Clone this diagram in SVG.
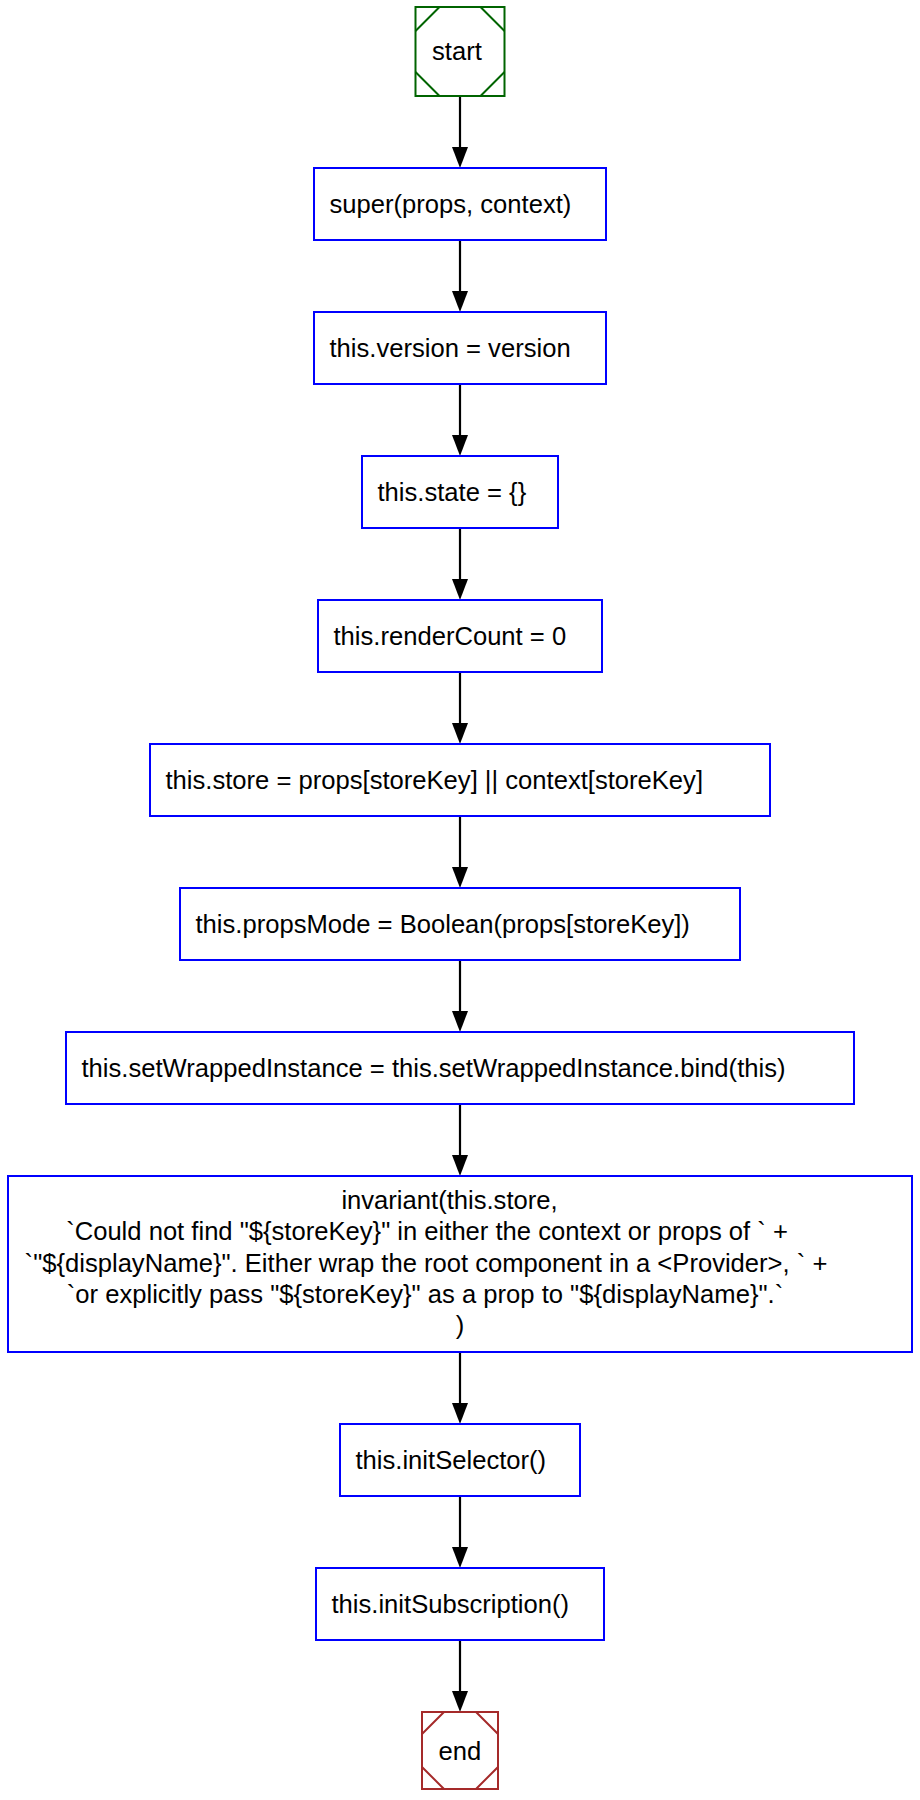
<svg xmlns="http://www.w3.org/2000/svg" width="920" height="1800" viewBox="0 0 920 1800">
<style>
  .bg { fill: #ffffff; }
  .box { fill: #ffffff; stroke: #0000ff; stroke-width: 2; }
  .start { fill: #ffffff; stroke: #006400; stroke-width: 2; }
  .end { fill: #ffffff; stroke: #a52a2a; stroke-width: 2; }
  .corner-s { fill: none; stroke: #006400; stroke-width: 2; }
  .corner-e { fill: none; stroke: #a52a2a; stroke-width: 2; }
  .lbl { font-family: "Liberation Sans", Arial, Helvetica, sans-serif; font-size: 25.6px; fill: #000000; }
  .mid { text-anchor: middle; }
  .edge { fill: none; stroke: #000000; stroke-width: 2.2; }
</style>
<defs>
  <marker id="ah" markerUnits="userSpaceOnUse" markerWidth="22" markerHeight="16" refX="0" refY="8" orient="auto" viewBox="0 0 22 16">
    <path d="M0,0 L21,8 L0,16 z" fill="#000000"/>
  </marker>
</defs>
<rect class="bg" x="0" y="0" width="920" height="1800"/>

<g id="connectors">
  <path class="edge" d="M460,96 V147" marker-end="url(#ah)"/>
  <path class="edge" d="M460,240 V291" marker-end="url(#ah)"/>
  <path class="edge" d="M460,384 V435" marker-end="url(#ah)"/>
  <path class="edge" d="M460,528 V579" marker-end="url(#ah)"/>
  <path class="edge" d="M460,672 V723" marker-end="url(#ah)"/>
  <path class="edge" d="M460,816 V867" marker-end="url(#ah)"/>
  <path class="edge" d="M460,960 V1011" marker-end="url(#ah)"/>
  <path class="edge" d="M460,1104 V1155" marker-end="url(#ah)"/>
  <path class="edge" d="M460,1352 V1403" marker-end="url(#ah)"/>
  <path class="edge" d="M460,1496 V1547" marker-end="url(#ah)"/>
  <path class="edge" d="M460,1640 V1691" marker-end="url(#ah)"/>
</g>

<g id="start">
  <rect class="start" x="415.5" y="7" width="89" height="89"/>
  <path class="corner-s" d="M415.5,31 L439.5,7 M480.5,7 L504.5,31 M504.5,72 L480.5,96 M439.5,96 L415.5,72"/>
  <text class="lbl" x="432" y="60">start</text>
</g>

<g id="super">
  <rect class="box" x="314" y="168" width="292" height="72"/>
  <text class="lbl" x="329.5" y="213">super(props, context)</text>
</g>

<g id="version">
  <rect class="box" x="314" y="312" width="292" height="72"/>
  <text class="lbl" x="329.5" y="357">this.version = version</text>
</g>

<g id="state">
  <rect class="box" x="362" y="456" width="196" height="72"/>
  <text class="lbl" x="377.5" y="501">this.state = {}</text>
</g>

<g id="renderCount">
  <rect class="box" x="318" y="600" width="284" height="72"/>
  <text class="lbl" x="333.5" y="645">this.renderCount = 0</text>
</g>

<g id="store">
  <rect class="box" x="150" y="744" width="620" height="72"/>
  <text class="lbl" x="165.5" y="789">this.store = props[storeKey] || context[storeKey]</text>
</g>

<g id="propsMode">
  <rect class="box" x="180" y="888" width="560" height="72"/>
  <text class="lbl" x="195.5" y="933">this.propsMode = Boolean(props[storeKey])</text>
</g>

<g id="setWrapped">
  <rect class="box" x="66" y="1032" width="788" height="72"/>
  <text class="lbl" x="81.5" y="1077">this.setWrappedInstance = this.setWrappedInstance.bind(this)</text>
</g>

<g id="invariant">
  <rect class="box" x="8" y="1176" width="904" height="176"/>
  <text class="lbl mid" x="449.5" y="1209">invariant(this.store,</text>
  <text class="lbl mid" x="427" y="1240">`Could not find "${storeKey}" in either the context or props of ` +</text>
  <text class="lbl mid" x="426" y="1271.5">`"${displayName}". Either wrap the root component in a &lt;Provider&gt;, ` +</text>
  <text class="lbl mid" x="425" y="1303">`or explicitly pass "${storeKey}" as a prop to "${displayName}".`</text>
  <text class="lbl mid" x="460" y="1334">)</text>
</g>

<g id="initSelector">
  <rect class="box" x="340" y="1424" width="240" height="72"/>
  <text class="lbl" x="355.5" y="1469">this.initSelector()</text>
</g>

<g id="initSubscription">
  <rect class="box" x="316" y="1568" width="288" height="72"/>
  <text class="lbl" x="331.5" y="1613">this.initSubscription()</text>
</g>

<g id="end">
  <rect class="end" x="422" y="1712" width="76" height="77"/>
  <path class="corner-e" d="M422,1734 L444,1712 M476,1712 L498,1734 M498,1767 L476,1789 M444,1789 L422,1767"/>
  <text class="lbl" x="438.5" y="1760">end</text>
</g>
</svg>
